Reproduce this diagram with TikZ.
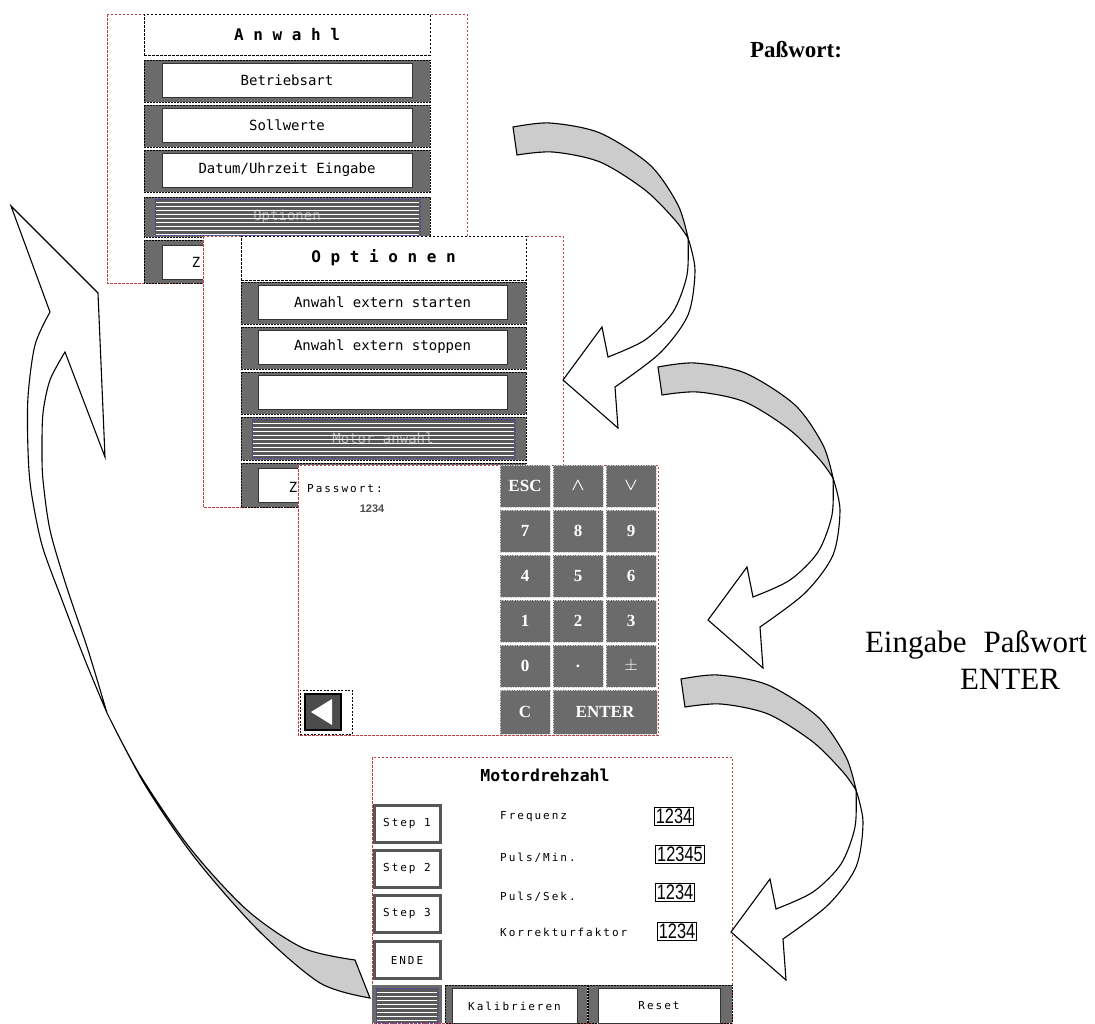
\documentclass[tikz,border=0pt]{standalone}
\usepackage{amsmath}
\usepackage{fontspec}
\setmainfont{Liberation Serif}
\setsansfont{Liberation Sans}
\setmonofont{DejaVu Sans Mono}
\newfontfamily\pixfont[LetterSpace=18]{DejaVu Sans Mono}
\usetikzlibrary{positioning}

\definecolor{btngray}{gray}{0.42}
\definecolor{scrred}{rgb}{0.78,0.25,0.25}
\definecolor{ribbon}{gray}{0.8}
\definecolor{hilite}{rgb}{0.2,0.2,0.9}

\newcommand{\narrowval}[1]{\scalebox{0.78}[1]{#1}}

\tikzset{
  screen/.style={draw=scrred, fill=white, line width=0.6pt, dash pattern=on 2.5pt off 1.5pt},
  titlebox/.style={draw=black, fill=white, line width=0.6pt, dash pattern=on 2.5pt off 1.5pt,
    inner sep=0pt, font=\ttfamily\bfseries\fontsize{16}{18}\selectfont},
  bar/.style={fill=btngray, draw=black, line width=0.5pt, dash pattern=on 2pt off 1pt},
  btn/.style={fill=white, draw=black!80, line width=0.7pt, inner sep=0pt, minimum height=34pt,
    font=\ttfamily\fontsize{14}{16}\selectfont},
  key/.style={fill=btngray, draw=white!80!black, line width=0.8pt, dash pattern=on 1.5pt off 1pt,
    inner sep=0pt, minimum width=50pt, minimum height=42pt, text=white,
    font=\bfseries\fontsize{17}{19}\selectfont},
  stepbtn/.style={fill=white, draw=btngray!80!black, line width=3pt, inner sep=0pt, minimum width=66pt,
    minimum height=37pt, font=\pixfont\fontsize{11}{13}\selectfont},
  lbl/.style={anchor=west, inner sep=0pt, font=\pixfont\fontsize{11}{13}\selectfont},
  valbox/.style={draw=black, fill=white, line width=0.6pt, inner sep=1.5pt,
    font=\sffamily\fontsize{21}{22}\selectfont},
  dimtext/.style={text=gray!55, font=\ttfamily\fontsize{14}{16}\selectfont},
  ribbonline/.style={draw=black, line width=1.1pt, line join=miter},
  bendarrow/.pic={
    % back side of the ribbon
    \filldraw[ribbonline, fill=ribbon]
      plot[smooth] coordinates {(-2,-14) (35,-18) (85,-8) (135,24) (163,64) (173,97)}
      -- plot[smooth] coordinates {(173,97) (160,79) (130,49) (85,21) (38,11) (2,14)}
      -- cycle;
    % front side with head
    \filldraw[ribbonline, fill=white]
      plot[smooth] coordinates {(173,97) (180,129) (173,174) (145,212) (100,246)}
      -- (103,287) -- (48,239) -- (87,186) -- (93,216)
      -- plot[smooth] coordinates {(93,216) (130,199) (158,171) (172,134) (173,97)}
      -- cycle;
  }
}

\begin{document}
\begin{tikzpicture}[x=1pt, y=-1pt]
\useasboundingbox (0,0) rectangle (1095,1023);

% screen 1: Anwahl
\draw[screen] (107,14) rectangle (467,283);
\node[titlebox, minimum width=286pt, minimum height=41pt] (anwahl) at (287,34.5) {A n w a h l};
\foreach \yt/\txt/\nm in {60/Betriebsart/betr, 105/Sollwerte/soll, 150/{Datum/Uhrzeit Eingabe}/datum}{
  \draw[bar] (144,\yt) rectangle (430,\yt+42);
  \node[btn, minimum width=250pt] (\nm) at (287,\yt+20) {\txt};
}
\draw[bar] (144,197) rectangle (430,237);
\fill[black!65] (155,199) rectangle (420,235);
\node[dimtext] (optsel) at (287,217) {Optionen};
\foreach \s in {202,206,...,234} \draw[white, line width=0.7pt] (156,\s) -- (419,\s);
\draw[hilite, dotted, line width=0.9pt] (155,199) rectangle (420,235);
\draw[bar] (144,240) rectangle (430,283);
\node[btn, minimum width=250pt] (zur1) at (287,262) {};
\node[btn, draw=none, fill=none] (zur1txt) at (196,262) {Z};

% screen 2: Optionen
\draw[screen] (203,236) rectangle (563,507);
\node[titlebox, minimum width=285pt, minimum height=44pt] (optionen) at (383.5,258) {O p t i o n e n};
\foreach \yt/\txt/\nm in {282/Anwahl extern starten/start, 327/Anwahl extern stoppen/stopp, 372/{}/leer}{
  \draw[bar] (241,\yt) rectangle (526,\yt+42);
  \node[btn, minimum width=249pt] (\nm) at (382.5,\yt+20) {\txt};
}
\draw[bar] (241,417) rectangle (526,460);
\fill[black!65] (252,419) rectangle (515,458);
\node[dimtext] (motsel) at (383,438) {Motor anwahl};
\foreach \s in {423,427,...,455} \draw[white, line width=0.7pt] (253,\s) -- (514,\s);
\draw[hilite, dotted, line width=0.9pt] (252,419) rectangle (515,458);
\draw[bar] (241,463) rectangle (526,507);
\node[btn, minimum width=249pt] (zur2) at (382.5,485) {};
\node[btn, draw=none, fill=none] (zur2txt) at (293,487) {Z};

% screen 3: keypad
\draw[screen] (298,465) rectangle (658,735);
\node[lbl] (pwlbl) at (307,489) {Passwort:};
\node[font=\sffamily\bfseries\fontsize{11}{12}\selectfont, text=black!70] (pwval) at (372,509) {1234};
\foreach \lbl [count=\k from 0] in {ESC, $\boldsymbol{\wedge}$, $\boldsymbol{\vee}$, 7, 8, 9, 4, 5, 6, 1, 2, 3, 0, ., $\pm$}{
  \pgfmathtruncatemacro{\col}{mod(\k,3)}
  \pgfmathtruncatemacro{\row}{\k/3}
  \node[key] (key\k) at (525+53*\col, 486+45*\row) {\lbl};
}
\node[key, minimum height=44pt] (keyc) at (525,712) {C};
\node[key, minimum width=104pt, minimum height=44pt] (keyenter) at (605,712) {ENTER};
\node[draw=black, dash pattern=on 2pt off 1.5pt, minimum width=52pt, minimum height=44pt] (backbox) at (326,712) {};
\node[fill=black!70, draw=black, line width=1.5pt, minimum width=36pt, minimum height=36pt] (backkey) at (323,712) {};
\fill[white] (311,712) -- (332,699) -- (332,725) -- cycle;

% screen 4: Motordrehzahl
\draw[screen] (372,757) rectangle (732,1023);
\node[font=\ttfamily\bfseries\fontsize{16.5}{18}\selectfont] (mtitle) at (545,775) {Motordrehzahl};
\foreach \yc/\txt/\nm in {824/Step 1/st1, 869/Step 2/st2, 914/Step 3/st3, 960/ENDE/ende}
  \node[stepbtn] (\nm) at (407,\yc) {\txt};
\foreach \yc/\txt/\nm in {817/Frequenz/lfreq, 858/{Puls/Min.}/lmin, 897/{Puls/Sek.}/lsek, 932/Korrekturfaktor/lkorr}
  \node[lbl] (\nm) at (500,\yc) {\txt};
\node[valbox] (vfreq) at (674,816) {\narrowval{1234}};
\node[valbox] (vmin) at (680,854) {\narrowval{12345}};
\node[valbox] (vsek) at (675,892) {\narrowval{1234}};
\node[valbox] (vkorr) at (677,931) {\narrowval{1234}};
\fill[btngray] (372,985) rectangle (442,1023);
\fill[black!65] (376,988) rectangle (438,1023);
\foreach \s in {992,996,...,1020} \draw[white, line width=0.7pt] (377,\s) -- (437,\s);
\draw[hilite, dotted, line width=0.9pt] (376,988) rectangle (438,1023);
\draw[bar] (445,985) rectangle (587,1023);
\node[btn, minimum width=125pt, minimum height=35pt, font=\pixfont\fontsize{11}{13}\selectfont] (kalib) at (514.5,1006) {Kalibrieren};
\draw[bar] (588,985) rectangle (732,1023);
\node[btn, minimum width=122pt, minimum height=35pt, font=\pixfont\fontsize{11}{13}\selectfont] (reset) at (659,1006) {Reset};

% arrows between the screens
\pic at (515,141) {bendarrow};
\pic at (660,381) {bendarrow};
\pic at (683,693) {bendarrow};

% long arrow back to the start
\filldraw[ribbonline, fill=white]
  plot[smooth] coordinates {(107,713) (85,660) (62,600) (42,545) (31,490) (28,450) (28,397) (35,345) (50,312)}
  -- (11,206) -- (98,293) -- (105,457) -- (65,352)
  -- plot[smooth] coordinates {(65,352) (50,380) (43,413) (42,450) (43,480) (50,530) (66,585) (88,650) (107,713)}
  -- cycle;
\filldraw[ribbonline, fill=ribbon]
  plot[smooth] coordinates {(107,713) (140,775) (190,848) (247,910) (303,948) (355,960)}
  -- (370,998)
  -- plot[smooth] coordinates {(370,998) (320,983) (258,930) (195,858) (145,785) (107,713)}
  -- cycle;

% labels
\node[font=\bfseries\fontsize{23}{27}\selectfont] (pwtitle) at (796,50) {Paßwort:};
\node[font=\fontsize{31}{35}\selectfont, anchor=base] (eingabe) at (976,652) {Eingabe\hspace{0.3em} Paßwort};
\node[font=\fontsize{31}{35}\selectfont, anchor=base] (enterlbl) at (1010,689) {ENTER};
\end{tikzpicture}
\end{document}
